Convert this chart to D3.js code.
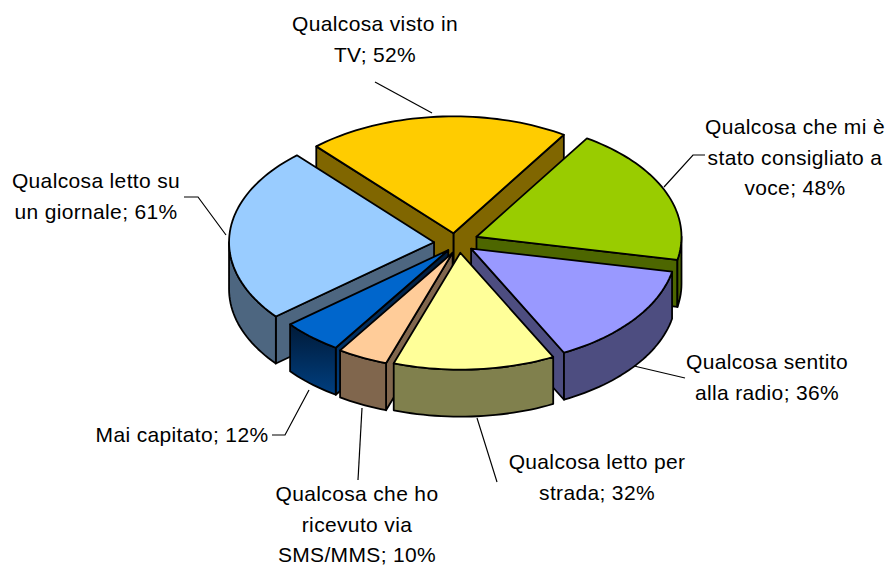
<!DOCTYPE html>
<html><head><meta charset="utf-8">
<script src="https://cdn.jsdelivr.net/npm/d3@7"></script>
<style>html,body{margin:0;background:#fff}svg{display:block}text{font-family:"Liberation Sans",Arial,sans-serif;font-size:21px;letter-spacing:.35px;fill:#000}</style>
</head><body><script>
const categories=["Qualcosa visto in TV","Qualcosa che mi è stato consigliato a voce","Qualcosa sentito alla radio","Qualcosa letto per strada","Qualcosa che ho ricevuto via SMS/MMS","Mai capitato","Qualcosa letto su un giornale"];
const values=[52,48,36,32,10,12,61];
const topColors=["#FFCC00","#99CC00","#9999FF","#FFFF99","#FFCC99","#0066CC","#99CCFF"];
const sideColors=["#806600","#4D6600","#4D4D80","#80804D","#80664D","#003366","#4D6680"];
const labelLines=[["Qualcosa visto in","TV; 52%"],["Qualcosa che mi è","stato consigliato a","voce; 48%"],["Qualcosa sentito","alla radio; 36%"],["Qualcosa letto per","strada; 32%"],["Qualcosa che ho","ricevuto via","SMS/MMS; 10%"],["Mai capitato; 12%"],["Qualcosa letto su","un giornale; 61%"]];
const labelPos=[[375,31],[795,134],[767,369],[597,469],[357,501],[182,442],[96,188]];
const leaders=[[[375,82],[432,113]],[[705,155],[693,155],[664,187]],[[685,378],[634,366]],[[497,482],[477,418]],[[358,480],[362,408]],[[272,435],[285,435],[309,390]],[[184,197],[198,197],[226,235]]];
const drawOrder=[0,1,2,6,5,4,3];
const nudges=[[-1,2],[3,-1],[0,0],[3,0],[5,1],[5,0],[-3,1]];

const W=886,H=566,cx=456,cy=242,R=205,K=0.57,DEPTH=47,EXPLODE=19;
const svg=d3.select("body").append("svg").attr("width",W).attr("height",H);
const defs=svg.append("defs");
const g=defs.append("linearGradient").attr("id","maiWall").attr("x1",0).attr("y1",0).attr("x2",0).attr("y2",1);
g.append("stop").attr("offset",0).attr("stop-color","#001a38");
g.append("stop").attr("offset",1).attr("stop-color","#003f80");

const pie=d3.pie().sort(null).startAngle(-42*Math.PI/180).endAngle(318*Math.PI/180);
const arcs=pie(values);
const line=d3.line();
const pt=(o,a,r,z=0)=>[o[0]+r*Math.sin(a),o[1]-r*K*Math.cos(a)+z];
const STROKE={stroke:"#000","stroke-width":1.8,"stroke-linejoin":"round"};
function poly(pts,fill){const p=svg.append("path").attr("d",line(pts)+"Z").attr("fill",fill);
  for(const k in STROKE)p.attr(k,STROKE[k]);return p;}
function arcPts(o,a0,a1,z=0){const n=Math.max(2,Math.ceil(Math.abs(a1-a0)/0.03));
  return d3.range(n+1).map(i=>pt(o,a0+(a1-a0)*i/n,R,z));}

drawOrder.forEach(i=>{
  const d=arcs[i],mid=(d.startAngle+d.endAngle)/2,c0=pt([cx,cy],mid,EXPLODE),c=[c0[0]+nudges[i][0],c0[1]+nudges[i][1]];
  const side=i===5?"url(#maiWall)":sideColors[i];
  const radial=a=>{const e=pt(c,a,R);poly([c,e,[e[0],e[1]+DEPTH],[c[0],c[1]+DEPTH]],side);};
  if(Math.sin(d.endAngle)>0)radial(d.endAngle);
  if(Math.sin(d.startAngle)<0)radial(d.startAngle);
  const lo=Math.max(d.startAngle,Math.PI/2),hi=Math.min(d.endAngle,3*Math.PI/2);
  if(hi>lo){const t=arcPts(c,lo,hi),b=arcPts(c,hi,lo,DEPTH);poly(t.concat(b),side);}
  poly([c].concat(arcPts(c,d.startAngle,d.endAngle)),topColors[i]);
});

leaders.forEach(l=>svg.append("path").attr("d",line(l)).attr("fill","none").attr("stroke","#000").attr("stroke-width",1.2));
labelLines.forEach((ls,i)=>{
  const t=svg.append("text").attr("text-anchor","middle");
  ls.forEach((s,j)=>t.append("tspan").attr("x",labelPos[i][0]).attr("y",labelPos[i][1]+j*30.5).text(s));
});
</script></body></html>
